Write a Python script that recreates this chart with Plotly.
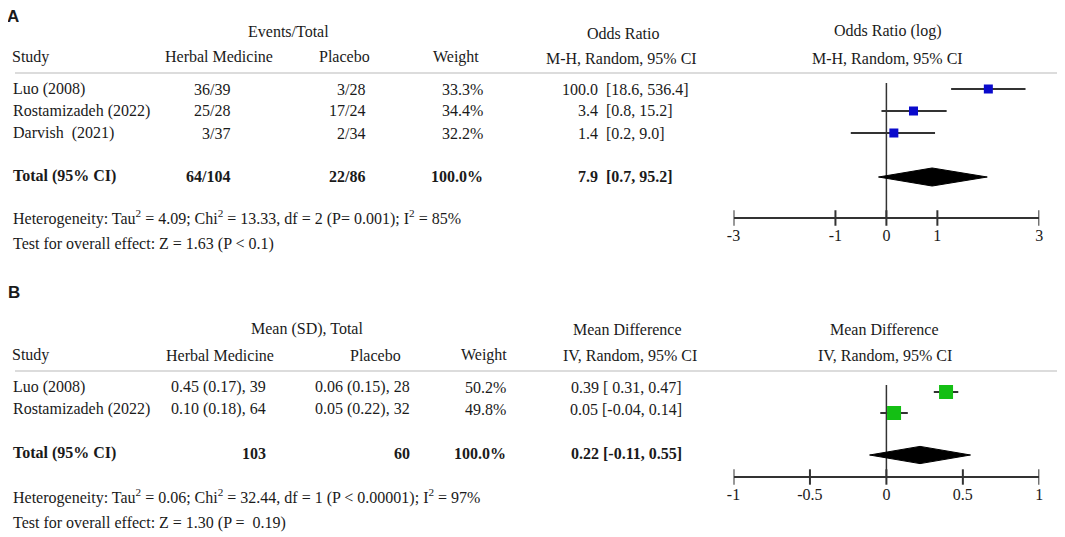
import numpy as np
import plotly.graph_objects as go

# ---- panel A data (odds ratio, dichotomous) ----
a_studies = ['Luo (2008)', 'Rostamizadeh (2022)', 'Darvish\u00a0 (2021)']
a_herbal = ['36/39', '25/28', '3/37']
a_placebo = ['3/28', '17/24', '2/34']
a_weight = ['33.3%', '34.4%', '32.2%']
a_or = [100.0, 3.4, 1.4]
a_lo = [18.6, 0.8, 0.2]
a_hi = [536.4, 15.2, 9.0]
a_total = dict(herbal='64/104', placebo='22/86', weight='100.0%', est=7.9, lo=0.7, hi=95.2)
a_tickvals = [0.001, 0.1, 1, 10, 1000]
a_ticktext = ['-3', '-1', '0', '1', '3']
a_het = 'Heterogeneity: Tau<sup>2</sup> = 4.09; Chi<sup>2</sup> = 13.33, df = 2 (P= 0.001); I<sup>2</sup> = 85%'
a_test = 'Test for overall effect: Z = 1.63 (P < 0.1)'

# ---- panel B data (mean difference, continuous) ----
b_studies = ['Luo (2008)', 'Rostamizadeh (2022)']
b_herbal = ['0.45 (0.17), 39', '0.10 (0.18), 64']
b_placebo = ['0.06 (0.15), 28', '0.05 (0.22), 32']
b_weight = ['50.2%', '49.8%']
b_md = [0.39, 0.05]
b_lo = [0.31, -0.04]
b_hi = [0.47, 0.14]
b_ci_text = ['0.39 [\u00a00.31, 0.47]', '0.05 [-0.04, 0.14]']
b_total = dict(herbal='103', placebo='60', weight='100.0%', est=0.22, lo=-0.11, hi=0.55,
               text='0.22 [-0.11, 0.55]')
b_tickvals = [-1, -0.5, 0, 0.5, 1]
b_ticktext = ['-1', '-0.5', '0', '0.5', '1']
b_het = 'Heterogeneity: Tau<sup>2</sup> = 0.06; Chi<sup>2</sup> = 32.44, df = 1 (P < 0.00001); I<sup>2</sup> = 97%'
b_test = 'Test for overall effect: Z = 1.30 (P =\u00a0 0.19)'

W, H = 1065, 537
OFF = 8  # page margin around the plot div
SERIF = 'Liberation Serif'
FS = 16
INK = '#1a1a1a'
LINE = '#333333'


def px(x):
    return (x - OFF) / W


def py(y):
    return 1 - (y - OFF) / H


def tx(x):
    # text on the left drifts right a little in the screenshot, pull it back
    return px(x - max(0.0, 9 * (1 - x / 750)))


def row_range(p0, step):
    # y axis spanning the whole page, row index r sits at screen pixel p0 + r*step
    p0 = p0 - OFF
    return [(H - p0) / step, -p0 / step]


def row_of(p, p0, step):
    return (p - p0) / step


fig = go.Figure()
annotations = []


def txt(x, y, s, anchor='left', bold=False, size=FS, family=SERIF, **kw):
    if bold:
        s = '<b>' + s + '</b>'
    annotations.append(dict(x=tx(x), y=py(y), xref='paper', yref='paper', text=s,
                            showarrow=False, xanchor=anchor, yanchor='middle',
                            font=dict(family=family, size=size, color=INK), **kw))


# ---------------- panel A text ----------------
txt(8, 16, 'A', bold=True, size=17, family='Liberation Sans', height=16, borderpad=0)
txt(290, 31, 'Events/Total', 'center')
txt(624, 33, 'Odds Ratio', 'center')
txt(890, 31, 'Odds Ratio (log)', 'center')
txt(12, 57, 'Study')
txt(220, 57, 'Herbal Medicine', 'center')
txt(346, 57, 'Placebo', 'center')
txt(457, 57, 'Weight', 'center')
txt(622, 58, 'M-H, Random, 95% CI', 'center')
txt(890, 58, 'M-H, Random, 95% CI', 'center')

a_rows_px = [89, 111, 133]
for i, ypix in enumerate(a_rows_px):
    txt(13, ypix, a_studies[i])
    txt(233, ypix, a_herbal[i], 'right')
    txt(368, ypix, a_placebo[i], 'right')
    txt(486, ypix, a_weight[i], 'right')
    txt(605, ypix, '%.1f ' % a_or[i], 'right')
    txt(605, ypix, '[%.1f, %.1f]' % (a_lo[i], a_hi[i]))
txt(13, 176, 'Total (95% CI)', bold=True)
txt(233, 176, a_total['herbal'], 'right', bold=True)
txt(368, 176, a_total['placebo'], 'right', bold=True)
txt(486, 176, a_total['weight'], 'right', bold=True)
txt(605, 176, '%.1f ' % a_total['est'], 'right', bold=True)
txt(605, 176, '[%.1f, %.1f]' % (a_total['lo'], a_total['hi']), bold=True)
txt(13, 217, a_het)
txt(13, 244, a_test)

# ---------------- panel B text ----------------
txt(8, 292, 'B', bold=True, size=17, family='Liberation Sans')
txt(308, 329, 'Mean (SD), Total', 'center')
txt(628, 329, 'Mean Difference', 'center')
txt(887, 329, 'Mean Difference', 'center')
txt(12, 355, 'Study')
txt(221, 355, 'Herbal Medicine', 'center')
txt(377, 355, 'Placebo', 'center')
txt(485, 355, 'Weight', 'center')
txt(631, 355, 'IV, Random, 95% CI', 'center')
txt(887, 355, 'IV, Random, 95% CI', 'center')

b_rows_px = [387, 409]
for i, ypix in enumerate(b_rows_px):
    txt(13, ypix, b_studies[i])
    txt(269, ypix, b_herbal[i], 'right')
    txt(413, ypix, b_placebo[i], 'right')
    txt(509, ypix, b_weight[i], 'right')
    txt(627, ypix, b_ci_text[i], 'center')
txt(13, 453, 'Total (95% CI)', bold=True)
txt(269, 453, b_total['herbal'], 'right', bold=True)
txt(413, 453, b_total['placebo'], 'right', bold=True)
txt(509, 453, b_total['weight'], 'right', bold=True)
txt(627, 453, b_total['text'], 'center', bold=True)
txt(13, 496, b_het)
txt(13, 523, b_test)

# ---------------- forest plots ----------------
A0, ASTEP = 89, 22
B0, BSTEP = 392, 21


def forest(xs, lo, hi, tot, null, axis_px, top_px, p0, step, sq_size, sq_color, tickvals, xa, ya):
    rows = list(range(len(xs)))
    total_row = len(xs) + 1
    axis_row = row_of(axis_px, p0, step)
    # null line
    fig.add_trace(go.Scatter(x=[null, null], y=[row_of(top_px, p0, step), axis_row], mode='lines',
                             line=dict(color=LINE, width=1.5), xaxis=xa, yaxis=ya, hoverinfo='skip'))
    # confidence intervals
    for r in rows:
        fig.add_trace(go.Scatter(x=[lo[r], hi[r]], y=[r, r], mode='lines',
                                 line=dict(color=LINE, width=2), xaxis=xa, yaxis=ya, hoverinfo='skip'))
    fig.add_trace(go.Scatter(x=xs, y=rows, mode='markers',
                             marker=dict(symbol='square', size=sq_size, color=sq_color, line=dict(width=0)),
                             xaxis=xa, yaxis=ya))
    # pooled diamond
    h = 0.41
    fig.add_trace(go.Scatter(x=[tot['lo'], tot['est'], tot['hi'], tot['est'], tot['lo']],
                             y=[total_row, total_row - h, total_row, total_row + h, total_row],
                             mode='lines', fill='toself', fillcolor='black', line=dict(color='black', width=1),
                             xaxis=xa, yaxis=ya, hoverinfo='skip'))
    # axis ticks crossing the axis line
    fig.add_trace(go.Scatter(x=tickvals, y=[axis_row] * len(tickvals), mode='markers',
                             marker=dict(symbol='line-ns', size=11, line=dict(color=LINE, width=2)),
                             xaxis=xa, yaxis=ya, hoverinfo='skip'))


forest(a_or, a_lo, a_hi, a_total, 1, 218, 83, A0, ASTEP, 9, '#0a0acc', a_tickvals, 'x', 'y')
forest(b_md, b_lo, b_hi, b_total, 0, 477, 385, B0, BSTEP, 14, '#14bf14', b_tickvals, 'x2', 'y2')

dom = [px(734), px(1043)]
axis_common = dict(domain=dom, anchor='free', showline=True, linecolor=LINE, linewidth=2,
                   showgrid=False, zeroline=False, ticks='outside', ticklen=3,
                   tickcolor='rgba(0,0,0,0)', tickfont=dict(family=SERIF, size=FS, color=INK),
                   fixedrange=True)

fig.update_layout(
    width=W, height=H,
    margin=dict(l=0, r=0, t=0, b=0),
    paper_bgcolor='white', plot_bgcolor='rgba(0,0,0,0)',
    showlegend=False,
    xaxis=dict(type='log', range=[-3, 3], tickvals=a_tickvals, ticktext=a_ticktext,
               position=py(218), **axis_common),
    xaxis2=dict(range=[-1, 1], tickvals=b_tickvals, ticktext=b_ticktext,
                position=py(477), **axis_common),
    yaxis=dict(domain=[0, 1], range=row_range(A0, ASTEP), visible=False, anchor='x', fixedrange=True),
    yaxis2=dict(domain=[0, 1], range=row_range(B0, BSTEP), visible=False, anchor='x2', fixedrange=True),
    annotations=annotations,
    shapes=[
        dict(type='line', xref='paper', yref='paper', x0=0, x1=px(1062), y0=py(73), y1=py(73),
             line=dict(color='#dcdcdc', width=2)),
        dict(type='line', xref='paper', yref='paper', x0=0, x1=px(1062), y0=py(371), y1=py(371),
             line=dict(color='#dcdcdc', width=2)),
    ],
)

fig.write_html('out.html')
